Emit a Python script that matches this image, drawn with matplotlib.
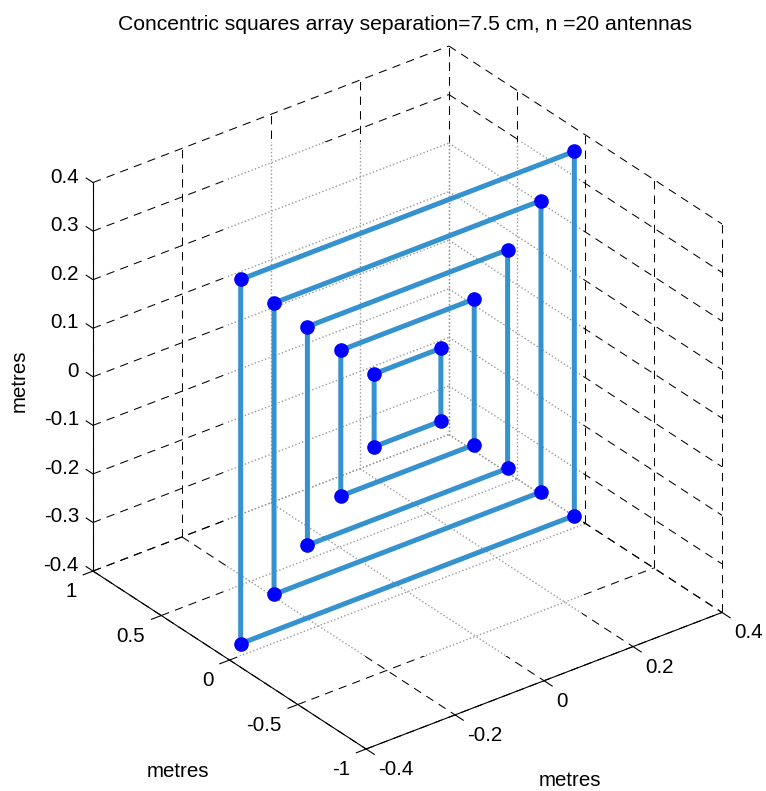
import numpy as np
import matplotlib.pyplot as plt
import matplotlib.transforms as mtransforms
from matplotlib.path import Path
from mpl_toolkits.mplot3d import proj3d

plt.rcParams['font.family'] = ['Liberation Sans', 'DejaVu Sans']

# Antenna layout: concentric squares in the x = 0 plane, 7.5 cm apart
half_sides = [0.075, 0.15, 0.225, 0.3, 0.375]
corner_y = [-1, 1, 1, -1]
corner_z = [1, 1, -1, -1]

x_lim = (1, -1)
y_lim = (-0.4, 0.4)
z_lim = (-0.4, 0.4)
x_ticks = [-1, -0.5, 0, 0.5, 1]
x_labels = ['-1', '-0.5', '0', '0.5', '1']
y_ticks = [-0.4, -0.2, 0, 0.2, 0.4]
y_labels = ['-0.4', '-0.2', '0', '0.2', '0.4']
z_ticks = [-0.4, -0.3, -0.2, -0.1, 0, 0.1, 0.2, 0.3, 0.4]
z_labels = ['-0.4', '-0.3', '-0.2', '-0.1', '0', '0.1', '0.2', '0.3', '0.4']

line_color = '#3592cf'
W, H = 766, 791
fs = 14.8

fig = plt.figure(figsize=(W / 100, H / 100), dpi=100)
side = 600
ax = fig.add_axes([80 / W, 80 / H, side / W, side / H], projection='3d')
ax.set_proj_type('ortho')
ax.view_init(elev=30, azim=-37.5)
ax.set_box_aspect((1, 1, 1))
ax.set_axis_off()

# grid lines are dashed black, but dotted grey inside the central window
win = [(227, H - 656), (582, H - 656), (582, H - 142), (227, H - 142)]
codes = [Path.MOVETO, Path.LINETO, Path.LINETO, Path.LINETO, Path.CLOSEPOLY]
inside = Path(win + win[:1], codes)
frame = [(0, 0), (W, 0), (W, H), (0, H)]
outside = Path(frame + frame[:1] + win[::-1] + win[-1:], codes + codes)
px = mtransforms.IdentityTransform()

xb, yb, zb = max(x_lim), max(y_lim), min(z_lim)  # back panes
grid_segments = []
for y in y_ticks:
    grid_segments.append(([xb, xb], [y, y], list(z_lim)))
    grid_segments.append((list(x_lim), [y, y], [zb, zb]))
for z in z_ticks:
    grid_segments.append(([xb, xb], list(y_lim), [z, z]))
    grid_segments.append((list(x_lim), [yb, yb], [z, z]))
for x in x_ticks:
    grid_segments.append(([x, x], [yb, yb], list(z_lim)))
    grid_segments.append(([x, x], list(y_lim), [zb, zb]))

for xs, ys, zs in grid_segments:
    dashed, = ax.plot(xs, ys, zs, color='k', lw=0.75, ls=(0, (8, 6)), zorder=1)
    dashed.set_clip_path(outside, px)
    dotted, = ax.plot(xs, ys, zs, color='#9a9a9a', lw=1.0, ls=(0, (1, 1.6)), zorder=1)
    dotted.set_clip_path(inside, px)

# axis lines and tick marks
x0a, y0a, z0a = max(x_lim), min(y_lim), min(z_lim)
xf = min(x_lim)
ax_kw = dict(color='k', lw=0.8, zorder=2)
ax.plot([x0a, x0a], [y0a, y0a], list(z_lim), **ax_kw)
ax.plot(list(x_lim), [y0a, y0a], [z0a, z0a], **ax_kw)
ax.plot([xf, xf], list(y_lim), [z0a, z0a], **ax_kw)
for x in x_ticks:
    ax.plot([x, x], [y0a - 0.022, y0a], [z0a, z0a], **ax_kw)
for y in y_ticks:
    ax.plot([xf, xf - 0.06], [y, y], [z0a, z0a], **ax_kw)
for z in z_ticks:
    ax.plot([x0a, x0a + 0.05], [y0a, y0a], [z, z], **ax_kw)

# the array itself
for h in half_sides:
    ys = np.array(corner_y + corner_y[:1]) * h
    zs = np.array(corner_z + corner_z[:1]) * h
    ax.plot(np.zeros(5), ys, zs, color=line_color, lw=3.6,
            solid_joinstyle='miter', zorder=3)
for h in half_sides:
    ax.plot(np.zeros(4), np.array(corner_y) * h, np.array(corner_z) * h,
            'o', color='b', ms=9.5, mec='b', zorder=4)

ax.set_xlim(*x_lim)
ax.set_ylim(*y_lim)
ax.set_zlim(*z_lim)

# scale and shift the axes so the plot box lands where wanted
fig.canvas.draw()


def to_px(x, y, z):
    xs, ys, _ = proj3d.proj_transform(x, y, z, ax.get_proj())
    return ax.transData.transform((xs, ys))


left = to_px(1, -0.4, 0.4)[0]
right = to_px(-1, 0.4, -0.4)[0]
top = to_px(1, 0.4, 0.4)[1]
pos = ax.get_position()
s = (722 - 93) / (right - left)
x0 = 93 - (left - pos.x0 * W) * s
y0 = (H - 46) - (top - pos.y0 * H) * s
ax.set_position([x0 / W, y0 / H, pos.width * s, pos.height * s])
fig.canvas.draw()


def tick_text(x, y, z, s, dx, dy, ha):
    p = to_px(x, y, z)
    fig.text((p[0] + dx) / W, (p[1] + dy) / H, s, ha=ha, va='baseline', fontsize=fs)


for x, s in zip(x_ticks, x_labels):
    tick_text(x, y0a, z0a, s, -16, -26, 'right')
for y, s in zip(y_ticks, y_labels):
    tick_text(xf, y, z0a, s, 12, -26, 'left')
for z, s in zip(z_ticks, z_labels):
    tick_text(x0a, y0a, z, s, -14, 0, 'right')

fig.text(405 / W, 1 - 30 / H, 'Concentric squares array separation=7.5 cm, n =20 antennas',
         ha='center', va='baseline', fontsize=15.2)
fig.text(25 / W, 1 - 381 / H, 'metres', rotation=90, rotation_mode='anchor',
         ha='center', va='baseline', fontsize=fs)
fig.text(178 / W, 1 - 777 / H, 'metres', ha='center', va='baseline', fontsize=fs)
fig.text(570 / W, 1 - 786 / H, 'metres', ha='center', va='baseline', fontsize=fs)

fig.savefig('out.png', dpi=100)
